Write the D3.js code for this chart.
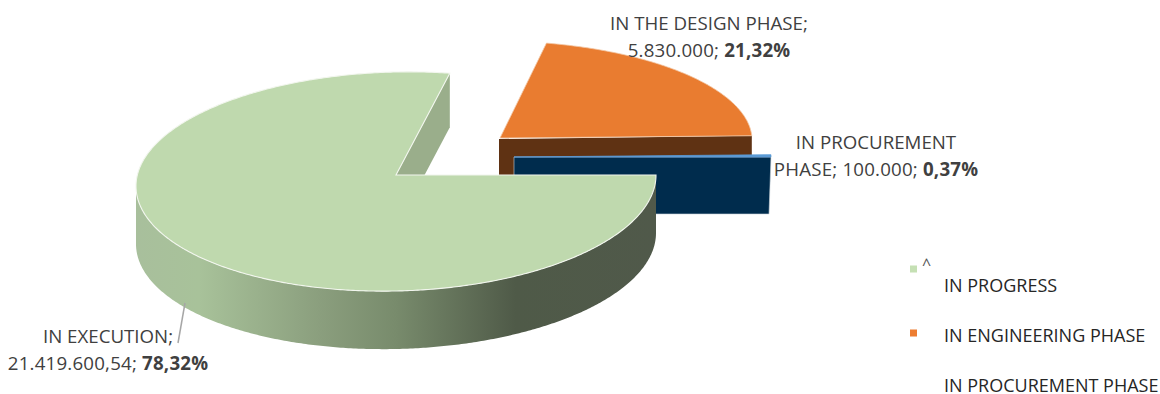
<!DOCTYPE html>
<html>
<head>
<meta charset="utf-8">
<script src="https://cdn.jsdelivr.net/npm/d3@7"></script>
<style>
html,body{margin:0;padding:0;background:#fff;}
svg{display:block;font-family:"Open Sans",sans-serif;}
</style>
</head>
<body>
<svg id="chart" width="1160" height="394"></svg>
<script>
// Budget by project phase
const categories = ["IN EXECUTION", "IN THE DESIGN PHASE", "IN PROCUREMENT PHASE"];
const values = [21419600.54, 5830000, 100000];
const valueLabels = ["21.419.600,54", "5.830.000", "100.000"];
const percentLabels = ["78,32%", "21,32%", "0,37%"];
const legendNames = ["IN PROGRESS", "IN ENGINEERING PHASE", "IN PROCUREMENT PHASE"];

const topColors = ["#bfd9ae", "#e97c30", "#5b9bd5"];
const cutColors = ["#9aae8b", "#5f3213", "#002c4d"];
const legendColors = ["#c5e0b4", "#ed7d31", "#ffffff"];

// Tilted-disc projection for each exploded slice; ax/ay is the slice's apex
const discs = [
  {ax: 396, ay: 175, cx: 396, cy: 180.5, rx: 260, ryTop: 108.5, ryBottom: 110.5, depth: 58, shear: 0, tilt: 5.5},
  {ax: 500, ay: 138, cx: 500, cy: 138, rx: 252, ryTop: 97,  ryBottom: 97,  depth: 58, shear: -0.06, tilt: 0},
  {ax: 514, ay: 157, cx: 514, cy: 157, rx: 257, ryTop: 100, ryBottom: 100, depth: 57, shear: 0, tilt: 0}
];

const svg = d3.select("#chart");

const pie = d3.pie().sort(null).value(d => d)
  .startAngle(Math.PI / 2).endAngle(Math.PI / 2 + 2 * Math.PI);
const arcs = pie(values);

function project(disc, a) {
  const c = Math.cos(a), s = Math.sin(a);
  const ry = c >= 0 ? disc.ryTop : disc.ryBottom;
  return [disc.cx + disc.rx * s + disc.shear * ry * c, disc.cy - ry * c - disc.tilt * s];
}

function rim(disc, a0, a1) {
  const n = Math.max(2, Math.ceil((a1 - a0) / 0.01));
  return d3.range(n + 1).map(i => project(disc, a0 + (a1 - a0) * i / n));
}

const line = d3.line().curve(d3.curveLinear);
const drop = (p, d, dx = 0) => [p[0] + dx, p[1] + d];

// Side-wall shading for the large slice
const defs = svg.append("defs");
const wallGrad = defs.append("linearGradient").attr("id", "wall")
  .attr("gradientUnits", "userSpaceOnUse")
  .attr("x1", discs[0].cx - discs[0].rx).attr("x2", discs[0].cx + discs[0].rx)
  .attr("y1", 0).attr("y2", 0);
[[0, "#a8bf9c"], [0.12, "#a8c29a"], [0.35, "#8b9f7e"], [0.5, "#788b6c"], [0.73, "#4f5a48"], [1, "#50594a"]]
  .forEach(([o, c]) => wallGrad.append("stop").attr("offset", o).attr("stop-color", c));

// Orange slice: visible cut face, then its top
{
  const d = discs[1], a = arcs[1];
  const apex = [d.ax, d.ay], end = project(d, a.endAngle);
  svg.append("path").attr("fill", cutColors[1])
    .attr("d", line([[apex[0] - 1, apex[1] + 1], end, drop(end, d.depth), drop(apex, d.depth, -1)]) + "Z");
  svg.append("path").attr("fill", topColors[1]).attr("stroke", "#f3c9a8").attr("stroke-width", 0.8)
    .attr("d", line([apex, ...rim(d, a.startAngle, a.endAngle)]) + "Z");
}

// Thin procurement slice, seen almost edge-on
{
  const d = discs[2], a = arcs[2];
  const apex = [d.ax, d.ay], end = project(d, a.endAngle);
  svg.append("path").attr("fill", cutColors[2]).attr("stroke", "#c9d3da").attr("stroke-width", 0.6)
    .attr("d", line([apex, end, drop(end, d.depth, -2), drop(apex, d.depth)]) + "Z");
  svg.append("path").attr("fill", topColors[2]).attr("stroke", topColors[2]).attr("stroke-width", 0.8)
    .attr("d", line([apex, ...rim(d, a.startAngle, a.endAngle)]) + "Z");
}

// Large slice: inner cut wall, outer wall, top
{
  const d = discs[0], a = arcs[0];
  const apex = [d.ax, d.ay], end = project(d, a.endAngle);
  svg.append("path").attr("fill", cutColors[0])
    .attr("d", line([apex, end, drop(end, d.depth - 4), drop(apex, d.depth - 4)]) + "Z");
  const front = rim(d, a.startAngle, Math.PI * 1.5);
  svg.append("path").attr("fill", "url(#wall)")
    .attr("d", line([...front, ...front.slice().reverse().map(p => drop(p, d.depth))]) + "Z");
  svg.append("path").attr("fill", topColors[0]).attr("stroke", "#f2f6ee").attr("stroke-width", 1.1)
    .attr("d", line([apex, ...rim(d, a.startAngle, a.endAngle)]) + "Z");
}

// Leader from the execution label to the slice
svg.append("line").attr("x1", 185).attr("y1", 303).attr("x2", 178).attr("y2", 343)
  .attr("stroke", "#a6a6a6").attr("stroke-width", 1.5);

// Data labels
const labelColor = "#404040";
function dataLabel(x, y, first, second, pct) {
  const t = svg.append("text").attr("text-anchor", "middle").attr("fill", labelColor)
    .attr("font-size", 18.7);
  t.append("tspan").attr("x", x).attr("y", y).text(first);
  const l2 = t.append("tspan").attr("x", x).attr("y", y + 27).attr("letter-spacing", 0.2).text(second + " ");
  l2.append("tspan").attr("font-weight", 700).text(pct);
}
dataLabel(108, 343, categories[0] + ";", valueLabels[0] + ";", percentLabels[0]);
dataLabel(709, 30, categories[1] + ";", valueLabels[1] + ";", percentLabels[1]);
dataLabel(876, 149, "IN PROCUREMENT", "PHASE; " + valueLabels[2] + ";", percentLabels[2]);

// Legend: markers and names sit on separate vertical rhythms
const legendY = d3.scalePoint().domain(legendNames).range([292, 392]);
const markerY = d3.scalePoint().domain(legendNames).range([269, 397]);
const legend = svg.append("g");
legendNames.forEach((name, i) => {
  legend.append("rect").attr("x", 910).attr("y", markerY(name) - 3.5).attr("width", 7).attr("height", 7)
    .attr("fill", legendColors[i]);
  legend.append("text").attr("x", 944).attr("y", legendY(name))
    .attr("font-size", 18).attr("fill", "#262626").text(name);
});
legend.append("text").attr("x", 922).attr("y", 270).attr("font-size", 16).attr("fill", "#555").text("^");
</script>
</body>
</html>
